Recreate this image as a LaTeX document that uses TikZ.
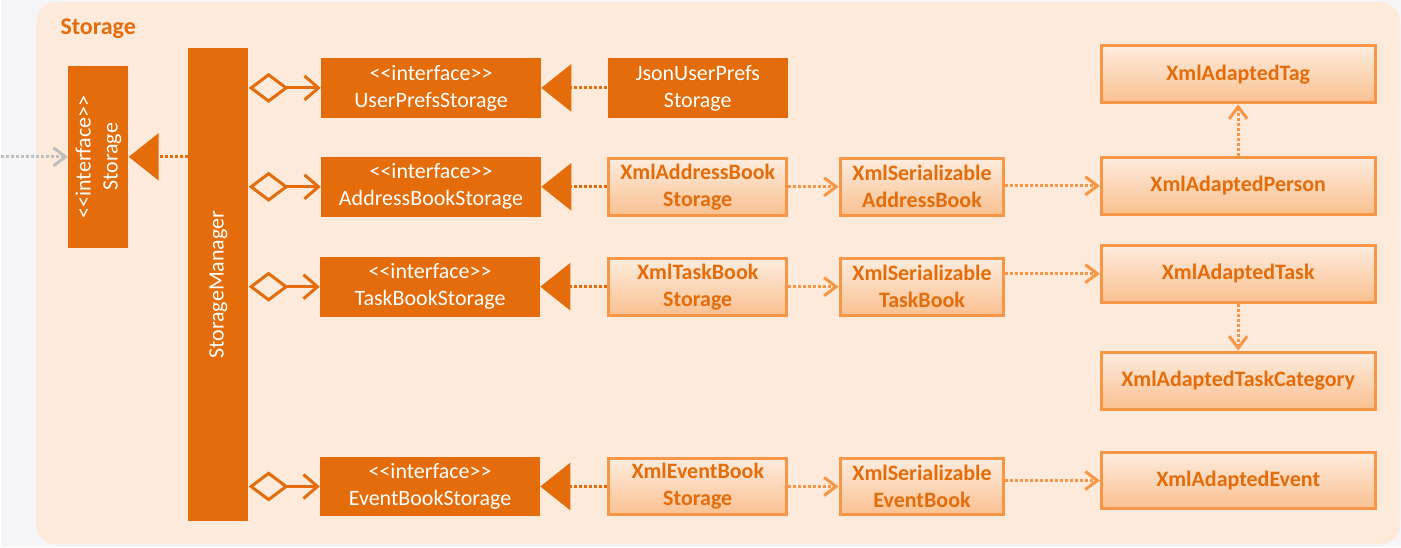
\documentclass[tikz,border=0pt]{standalone}
\usepackage{fontspec}
\setmainfont{Carlito}
\usepackage{xcolor}
\usepackage{tikz}
\usetikzlibrary{arrows.meta,positioning}
\definecolor{NaranjaFuerte}{RGB}{228,108,10}
\definecolor{NaranjaBorde}{RGB}{247,150,70}
\definecolor{NaranjaClaro}{RGB}{253,236,222}
\definecolor{NaranjaMedio}{RGB}{250,192,144}
\definecolor{FondoPaquete}{RGB}{253,234,218}
\definecolor{FondoPagina}{RGB}{245,245,247}
\definecolor{GrisFlecha}{RGB}{191,191,191}
\newcommand{\estereo}{<{}<interface>{}>}

\begin{document}
\begin{tikzpicture}[x=0.5pt,y=-0.5pt,
    iface/.style={fill=NaranjaFuerte,text=white,inner sep=0pt,align=center,
      minimum height=30pt,font=\fontsize{11}{13.5}\selectfont},
    clase/.style={draw=NaranjaBorde,line width=1.5pt,top color=NaranjaClaro,
      bottom color=NaranjaMedio,text=NaranjaFuerte,inner sep=0pt,align=center,
      minimum height=28.5pt,font=\bfseries\fontsize{11}{13.5}\selectfont},
    agreg/.style={line width=1.5pt,NaranjaFuerte,
      {Diamond[open,length=20pt,width=15pt]}-{Straight Barb[length=7pt,width=12pt]}},
    realiza/.style={line width=1.5pt,NaranjaFuerte,dash pattern=on 1.5pt off 1pt,
      -{Triangle[length=15pt,width=23.5pt]}},
    usa/.style={line width=1.5pt,NaranjaBorde,dash pattern=on 1.5pt off 1pt,
      -{Straight Barb[length=6pt,width=9pt]}}]
  % fondo y paquete
  \fill[FondoPagina] (0,0) rectangle (1401,548);
  \fill[FondoPaquete,rounded corners=10pt] (35,2) rectangle (1400,545);
  \node[anchor=west,text=NaranjaFuerte,font=\bfseries\fontsize{12}{14}\selectfont]
       (titulo) at (52,29) {Storage};

  % fachada
  \node[iface,minimum width=30pt,minimum height=91pt] (storage) at (97,157) {};
  \node[rotate=90,text=white,align=center,font=\fontsize{11}{13.5}\selectfont]
       at (storage) {\estereo\\Storage};
  \node[iface,minimum width=30pt,minimum height=237pt] (manager) at (217,285) {};
  \node[rotate=90,text=white,font=\fontsize{11}{13.5}\selectfont]
       at (manager) {StorageManager};

  % interfaces
  \node[iface,minimum width=110pt] (prefs) at (430,88) {\estereo\\UserPrefsStorage};
  \node[iface,minimum width=110pt] (abook) at (430,187) {\estereo\\AddressBookStorage};
  \node[iface,minimum width=110pt] (tbook) at (429,287) {\estereo\\TaskBookStorage};
  \node[iface,minimum width=110pt] (ebook) at (429,487) {\estereo\\EventBookStorage};

  % implementaciones
  \node[iface,minimum width=90pt] (jsonprefs) at (697,88) {JsonUserPrefs\\Storage};
  \node[clase,minimum width=89pt] (xmlabook) at (697,187) {XmlAddressBook\\Storage};
  \node[clase,minimum width=89pt] (xmltbook) at (697,287) {XmlTaskBook\\Storage};
  \node[clase,minimum width=89pt] (xmlebook) at (697,487) {XmlEventBook\\Storage};

  \node[clase,minimum width=82pt] (serabook) at (921.5,187) {XmlSerializable\\AddressBook};
  \node[clase,minimum width=82pt] (sertbook) at (921.5,287) {XmlSerializable\\TaskBook};
  \node[clase,minimum width=82pt] (serebook) at (921.5,487) {XmlSerializable\\EventBook};

  % adaptadores
  \node[clase,minimum width=137pt] (tag) at (1238,74.5) {XmlAdaptedTag};
  \node[clase,minimum width=137pt] (person) at (1238,186) {XmlAdaptedPerson};
  \node[clase,minimum width=137pt] (task) at (1238,274) {XmlAdaptedTask};
  \node[clase,minimum width=137pt] (category) at (1238,381) {XmlAdaptedTaskCategory};
  \node[clase,minimum width=137pt] (event) at (1238,481) {XmlAdaptedEvent};

  % relaciones
  \coordinate (entrada) at (0,157);
  \draw[line width=1.5pt,GrisFlecha,dash pattern=on 1.5pt off 1pt,
        -{Straight Barb[length=6pt,width=9pt]}] (entrada) -- (storage.west);
  \draw[realiza] (manager.west |- storage.east) -- (storage.east);

  \draw[agreg] (manager.east |- prefs.west) -- (prefs.west);
  \draw[agreg] (manager.east |- abook.west) -- (abook.west);
  \draw[agreg] (manager.east |- tbook.west) -- (tbook.west);
  \draw[agreg] (manager.east |- ebook.west) -- (ebook.west);

  \draw[realiza] (jsonprefs.west) -- (prefs.east);
  \draw[realiza] (xmlabook.west) -- (abook.east);
  \draw[realiza] (xmltbook.west) -- (tbook.east);
  \draw[realiza] (xmlebook.west) -- (ebook.east);

  \draw[usa] (xmlabook.east) -- (serabook.west);
  \draw[usa] (xmltbook.east) -- (sertbook.west);
  \draw[usa] (xmlebook.east) -- (serebook.west);

  \draw[usa] (serabook.east |- person.west) -- (person.west);
  \draw[usa] (sertbook.east |- task.west) -- (task.west);
  \draw[usa] (serebook.east |- event.west) -- (event.west);
  \draw[usa] (person.north) -- (tag.south);
  \draw[usa] (task.south) -- (category.north);
\end{tikzpicture}
\end{document}
